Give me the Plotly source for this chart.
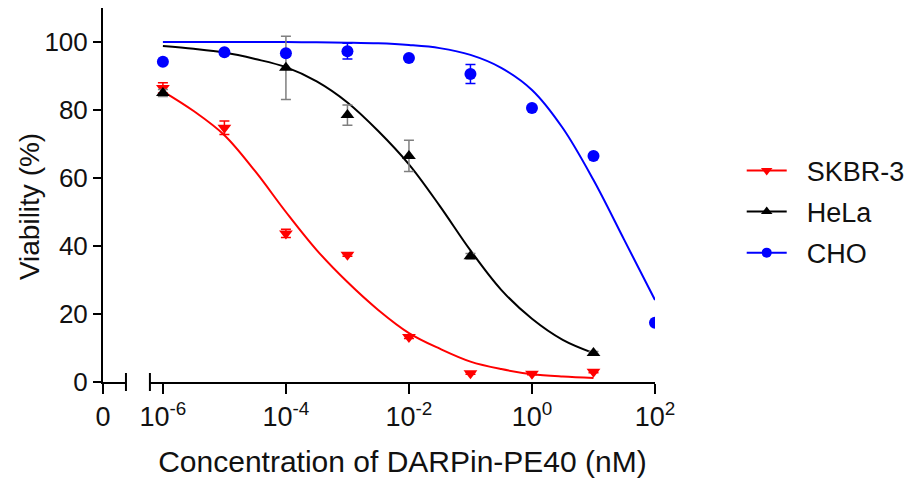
import plotly.graph_objects as go

# ---------------- data ----------------
series_names = ["SKBR-3", "HeLa", "CHO"]

skbr_logc = [-6, -5, -4, -3, -2, -1, 0, 1]
skbr_viab = [86.5, 74.8, 43.7, 37.4, 13.2, 2.6, 2.4, 3.0]
skbr_err = [1.5, 2.0, 1.2, 0.4, 0.4, 0.3, 0.3, 0.3]

hela_logc = [-6, -4, -3, -2, -1, 1]
hela_viab = [85.0, 92.4, 78.5, 66.5, 37.0, 8.5]
hela_err = [1.0, 9.3, 3.0, 4.6, 0.8, 0.5]

cho_logc = [-6, -5, -4, -3, -2, -1, 0, 1, 2]
cho_viab = [94.2, 97.0, 96.7, 97.3, 95.3, 90.6, 80.6, 66.5, 17.4]
cho_err = [0.4, 0.4, 0.6, 2.3, 0.4, 2.8, 0.4, 0.4, 0.4]

# fitted curves, every half decade
skbr_fit_logc = [-6, -5.5, -5, -4.5, -4, -3.5, -3, -2.5, -2, -1.5, -1, -0.5, 0, 0.5, 1]
skbr_fit_viab = [85.5, 79.7, 72.6, 62.0, 50.0, 38.8, 29.4, 21.2, 14.4, 9.8, 6.0, 3.8, 2.3, 1.6, 1.2]

hela_fit_logc = [-6, -5.5, -5, -4.5, -4, -3.5, -3, -2.5, -2, -1.5, -1, -0.5, 0, 0.5, 1]
hela_fit_viab = [98.8, 98.0, 96.9, 95.0, 92.6, 88.4, 82.2, 73.8, 64.0, 51.8, 38.7, 27.1, 18.6, 12.4, 8.5]

cho_fit_logc = [-6, -5.5, -5, -4.5, -4, -3.5, -3, -2.5, -2, -1.5, -1, -0.5, 0, 0.5, 1, 1.5, 2]
cho_fit_viab = [100, 100, 100, 100, 100, 99.9, 99.8, 99.6, 99.1, 98.2, 96.2, 92.4, 85.9, 74.7, 59.4, 41.8, 24.1]

x_tickvals = [1e-6, 1e-4, 1e-2, 1, 100]
x_ticktext = ["10<sup>-6</sup>", "10<sup>-4</sup>", "10<sup>-2</sup>", "10<sup>0</sup>", "10<sup>2</sup>"]
zero_tickvals = [0]
zero_ticktext = ["0"]
y_tickvals = [0, 20, 40, 60, 80, 100]

colors = ["#ff0000", "#000000", "#0000ff"]
symbols = ["triangle-down", "triangle-up", "circle"]
err_colors = ["#ff0000", "#7f7f7f", "#0000ff"]


def conc(logs):
    return [10 ** v for v in logs]


FONT = "Arial, Liberation Sans, sans-serif"
TXT = "#111111"

fig = go.Figure()

points = [(skbr_logc, skbr_viab, skbr_err), (hela_logc, hela_viab, hela_err), (cho_logc, cho_viab, cho_err)]
fits = [(skbr_fit_logc, skbr_fit_viab), (hela_fit_logc, hela_fit_viab), (cho_fit_logc, cho_fit_viab)]

for i, name in enumerate(series_names):
    fx, fy = fits[i]
    fig.add_trace(go.Scatter(
        x=conc(fx), y=fy, mode="lines", line=dict(color=colors[i], width=2, shape="spline", smoothing=1.0),
        showlegend=False, hoverinfo="skip"))

for i, name in enumerate(series_names):
    px_, py_, pe_ = points[i]
    fig.add_trace(go.Scatter(
        x=conc(px_), y=py_, mode="markers",
        marker=dict(symbol=symbols[i], size=12, color=colors[i], line=dict(width=0)),
        error_y=dict(type="data", array=pe_, visible=True, color=err_colors[i], thickness=1.5, width=5),
        showlegend=False, name=name))

# legend entries (line + marker)
for i, name in enumerate(series_names):
    fig.add_trace(go.Scatter(
        x=[None], y=[None], mode="lines+markers", name="\u00a0\u00a0" + name, legendgroup=name,
        line=dict(color=colors[i], width=2),
        marker=dict(symbol=symbols[i], size=10, color=colors[i])))

# empty trace so that the "0" segment of the broken x axis is drawn
fig.add_trace(go.Scatter(x=[None], y=[None], xaxis="x2", yaxis="y", mode="markers",
                         showlegend=False, hoverinfo="skip"))

axis_line = dict(showline=True, linecolor="#000000", linewidth=2, showgrid=False, zeroline=False,
                 ticks="outside", tickwidth=2, tickcolor="#000000")

fig.update_layout(
    width=916, height=484,
    margin=dict(l=103, r=260, t=8, b=102, pad=0),
    paper_bgcolor="white", plot_bgcolor="white",
    font=dict(family=FONT, color=TXT),
    xaxis=dict(type="log", domain=[0.085, 1.0], range=[-6.211, 2.0], anchor="y",
               tickvals=x_tickvals, ticktext=x_ticktext, ticklen=10,
               tickfont=dict(size=27, family=FONT, color=TXT),
               title=dict(text="Concentration of DARPin-PE40 (nM)", font=dict(size=30, family=FONT, color=TXT),
                          standoff=20),
               **axis_line),
    xaxis2=dict(domain=[0.0, 0.0416], range=[0, 1], anchor="y", tickvals=zero_tickvals, ticktext=zero_ticktext,
                ticklen=10, tickfont=dict(size=27, family=FONT, color=TXT), **axis_line),
    yaxis=dict(range=[0, 110], anchor="x2", tickvals=y_tickvals, ticklen=8,
               tickfont=dict(size=26, family=FONT, color=TXT), **axis_line),
    legend=dict(x=1.155, xanchor="left", y=0.63, yanchor="top", font=dict(size=27, family=FONT, color=TXT),
                bgcolor="rgba(0,0,0,0)", itemwidth=40, tracegroupgap=3, traceorder="grouped"),
    annotations=[dict(text="Viability (%)", xref="paper", yref="paper", x=-0.132, y=0.468,
                      textangle=-90, showarrow=False, font=dict(size=28, family=FONT, color=TXT),
                      xanchor="center", yanchor="middle")],
    shapes=[
        dict(type="line", xref="x2 domain", x0=1, x1=1, yref="paper", ysizemode="pixel", yanchor=0, y0=-9, y1=9,
             line=dict(color="#000000", width=2)),
        dict(type="line", xref="x domain", x0=0, x1=0, yref="paper", ysizemode="pixel", yanchor=0, y0=-9, y1=9,
             line=dict(color="#000000", width=2)),
    ],
)

fig.write_html("out.html", config={"displayModeBar": False},
               post_script="document.body.style.margin='0px';")
